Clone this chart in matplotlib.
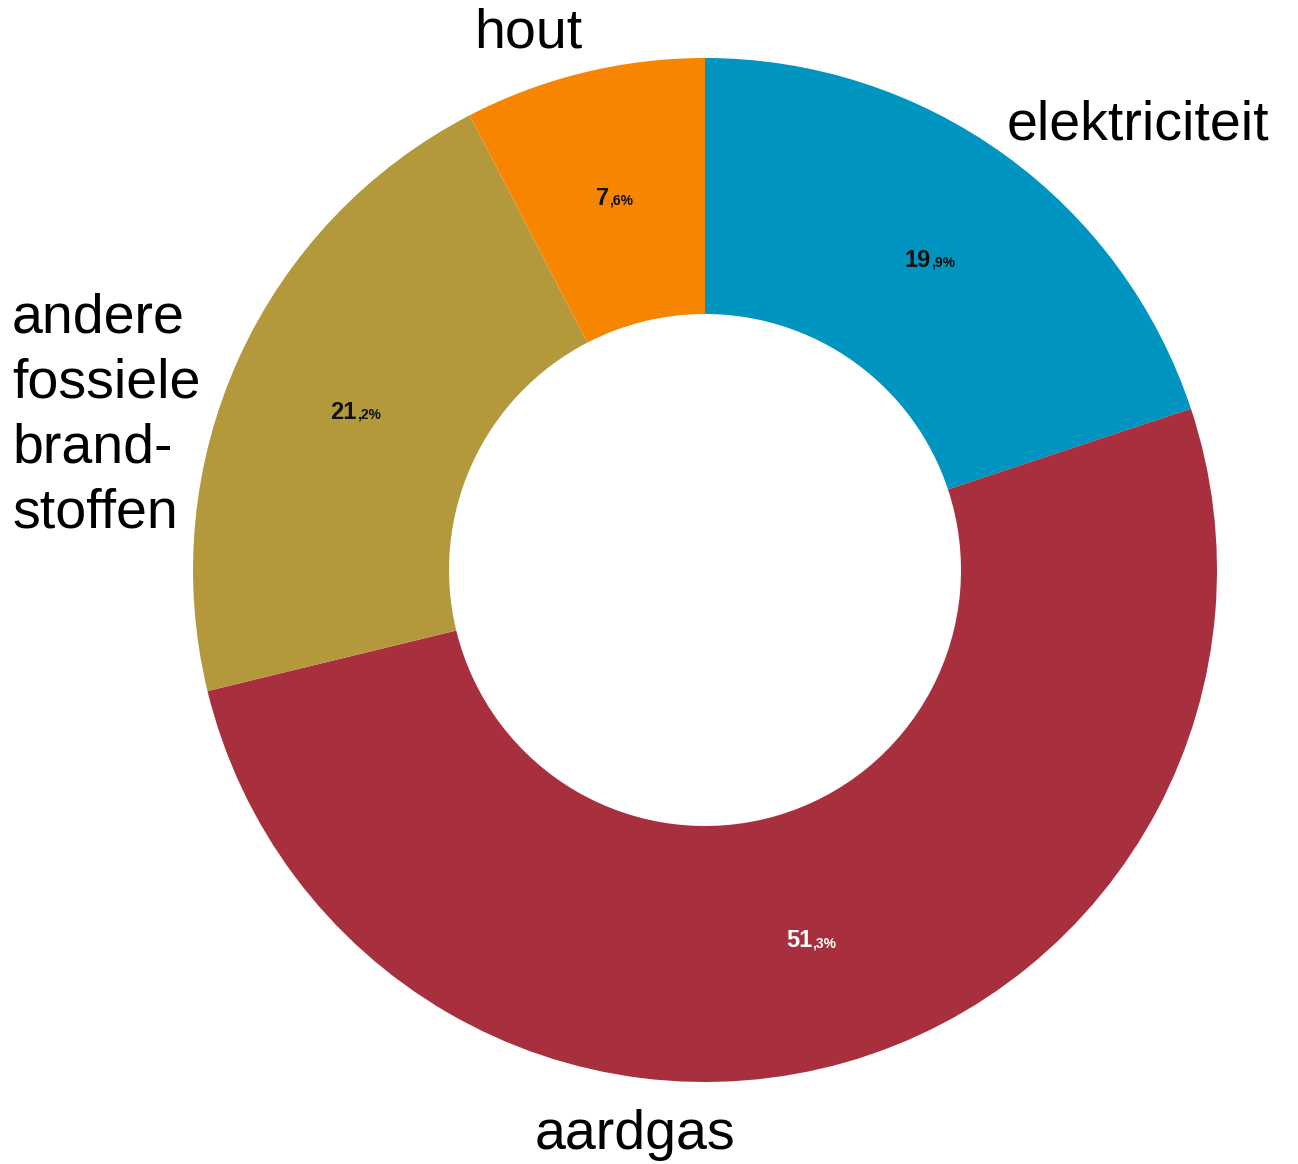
import matplotlib.pyplot as plt
import numpy as np

plt.rcParams['font.family'] = ['Liberation Sans', 'DejaVu Sans']

# data (clockwise from top)
labels = ['elektriciteit', 'aardgas', 'andere\nfossiele\nbrand-\nstoffen', 'hout']
values = [19.9, 51.3, 21.2, 7.6]
colors = ['#0095C0', '#A82F3D', '#B3993C', '#F78500']
pct_colors = ['#111111', '#FFFFFF', '#111111', '#111111']

W, H = 1298, 1164
fig = plt.figure(figsize=(W / 100, H / 100), dpi=100)
ax = fig.add_axes([0, 0, 1, 1])

cx, cy, R = 705, H - 570, 512
wedges, _ = ax.pie(values, colors=colors, startangle=90, counterclock=False,
                   center=(cx, cy), radius=R, wedgeprops=dict(width=R * 0.5, linewidth=0),
                   frame=True)
ax.set_xlim(0, W)
ax.set_ylim(0, H)
ax.set_aspect('equal')
ax.axis('off')

# percentage labels: big bold integer part, small decimal part
fig.canvas.draw()
rend = fig.canvas.get_renderer()
for w, v, c in zip(wedges, values, pct_colors):
    ang = np.deg2rad((w.theta1 + w.theta2) / 2)
    x = cx + 0.75 * R * np.cos(ang)
    y = cy + 0.75 * R * np.sin(ang)
    s = ('%.1f' % v).split('.')
    t1 = ax.text(x, y - 8, s[0], ha='right', va='baseline', fontsize=17,
                 fontweight='bold', color=c)
    t2 = ax.text(x, y - 8, ',' + s[1] + '%', ha='left', va='baseline', fontsize=10,
                 fontweight='bold', color=c)
    w1 = t1.get_window_extent(rend).width
    w2 = t2.get_window_extent(rend).width
    shift = (w1 - w2) / 2
    t1.set_x(x + shift)
    t2.set_x(x + shift)

# category labels
ax.text(528, H - 33, labels[3], ha='center', va='center', fontsize=40)
ax.text(1007, H - 125, labels[0], ha='left', va='center', fontsize=40)
ax.text(12, H - 416, labels[2], ha='left', va='center', fontsize=40, linespacing=1.33)
ax.text(635, H - 1135, labels[1], ha='center', va='center', fontsize=40)

fig.savefig('out.png', dpi=100)
